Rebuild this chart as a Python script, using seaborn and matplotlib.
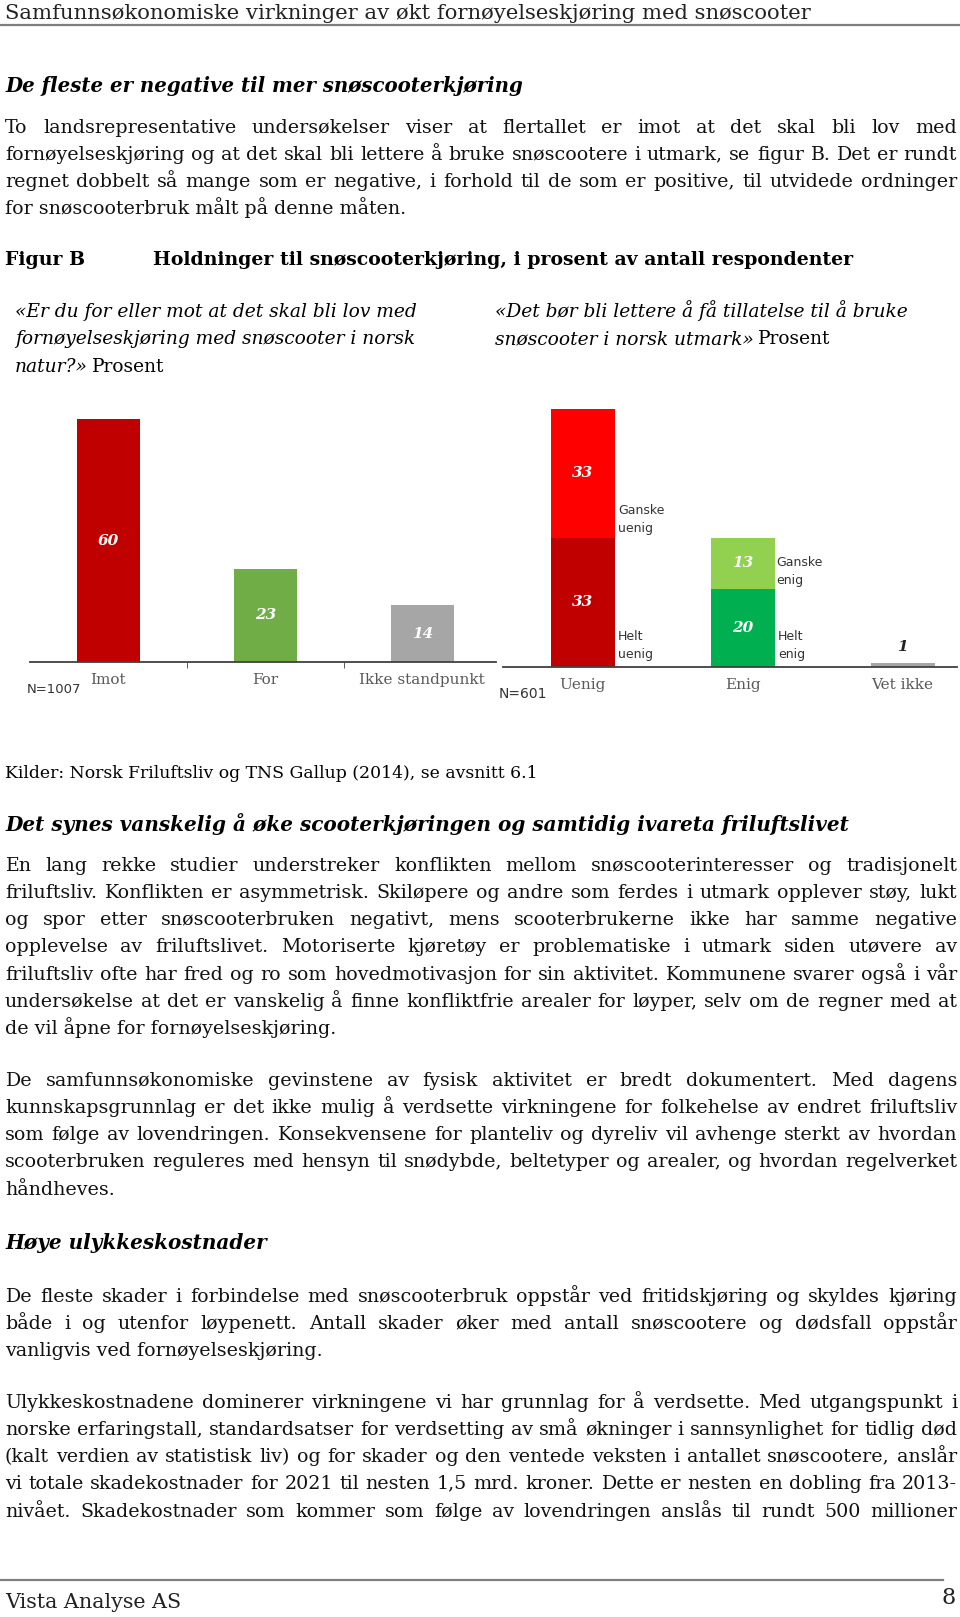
import numpy as np
import pandas as pd
import matplotlib
matplotlib.use("Agg")
import matplotlib.pyplot as plt
from matplotlib.lines import Line2D
import seaborn as sns

plt.rcParams['font.family'] = ['DejaVu Serif', 'DejaVu Sans']

W, H = 960, 1617

# chart data (percent of respondents)
left_cats = ["Imot", "For", "Ikke standpunkt"]
left_vals = [60, 23, 14]
left_colors = ["#C00000", "#70AD47", "#A6A6A6"]
left_n = "N=1007"

right_cats = ["Uenig", "Enig", "Vet ikke"]
right_helt = [33, 20, 1]      # helt uenig / helt enig / vet ikke
right_ganske = [33, 13, 0]    # ganske uenig / ganske enig
right_helt_colors = ["#C00000", "#00B050", "#A6A6A6"]
right_ganske_colors = ["#FF0000", "#92D050", "#A6A6A6"]
right_n = "N=601"

# page text
header = "Samfunnsøkonomiske virkninger av økt fornøyelseskjøring med snøscooter"
heading1 = "De fleste er negative til mer snøscooterkjøring"
para1 = [
    "To landsrepresentative undersøkelser viser at flertallet er imot at det skal bli lov med",
    "fornøyelseskjøring og at det skal bli lettere å bruke snøscootere i utmark, se figur B. Det er rundt",
    "regnet dobbelt så mange som er negative, i forhold til de som er positive, til utvidede ordninger",
    "for snøscooterbruk målt på denne måten.",
]
fig_label = "Figur B"
fig_title = "Holdninger til snøscooterkjøring, i prosent av antall respondenter"
sub_left = ["«Er du for eller mot at det skal bli lov med",
            "fornøyelseskjøring med snøscooter i norsk",
            "natur?»"]
sub_right = ["«Det bør bli lettere å få tillatelse til å bruke",
             "snøscooter i norsk utmark»"]
source = "Kilder: Norsk Friluftsliv og TNS Gallup (2014), se avsnitt 6.1"
heading2 = "Det synes vanskelig å øke scooterkjøringen og samtidig ivareta friluftslivet"
para2 = [
    "En lang rekke studier understreker konflikten mellom snøscooterinteresser og tradisjonelt",
    "friluftsliv. Konflikten er asymmetrisk. Skiløpere og andre som ferdes i utmark opplever støy, lukt",
    "og spor etter snøscooterbruken negativt, mens scooterbrukerne ikke har samme negative",
    "opplevelse av friluftslivet. Motoriserte kjøretøy er problematiske i utmark siden utøvere av",
    "friluftsliv ofte har fred og ro som hovedmotivasjon for sin aktivitet. Kommunene svarer også i vår",
    "undersøkelse at det er vanskelig å finne konfliktfrie arealer for løyper, selv om de regner med at",
    "de vil åpne for fornøyelseskjøring.",
]
para3 = [
    "De samfunnsøkonomiske gevinstene av fysisk aktivitet er bredt dokumentert. Med dagens",
    "kunnskapsgrunnlag er det ikke mulig å verdsette virkningene for folkehelse av endret friluftsliv",
    "som følge av lovendringen. Konsekvensene for planteliv og dyreliv vil avhenge sterkt av hvordan",
    "scooterbruken reguleres med hensyn til snødybde, beltetyper og arealer, og hvordan regelverket",
    "håndheves.",
]
heading3 = "Høye ulykkeskostnader"
para4 = [
    "De fleste skader i forbindelse med snøscooterbruk oppstår ved fritidskjøring og skyldes kjøring",
    "både i og utenfor løypenett. Antall skader øker med antall snøscootere og dødsfall oppstår",
    "vanligvis ved fornøyelseskjøring.",
]
para5 = [
    "Ulykkeskostnadene dominerer virkningene vi har grunnlag for å verdsette. Med utgangspunkt i",
    "norske erfaringstall, standardsatser for verdsetting av små økninger i sannsynlighet for tidlig død",
    "(kalt verdien av statistisk liv) og for skader og den ventede veksten i antallet snøscootere, anslår",
    "vi totale skadekostnader for 2021 til nesten 1,5 mrd. kroner. Dette er nesten en dobling fra 2013-",
    "nivået. Skadekostnader som kommer som følge av lovendringen anslås til rundt 500 millioner",
]

fig = plt.figure(figsize=(W / 100, H / 100), dpi=100)
fig.patch.set_facecolor("white")
r = fig.canvas.get_renderer()
justified = []   # word texts of each justified line, aligned after a first draw
DESC = set("gjpqy()")


def X(px):
    return px / W


def Y(py):
    return 1 - py / H


def width_of(text, size, **kw):
    t = fig.text(0, 0, text, fontsize=size, **kw)
    w = t.get_window_extent(renderer=r).width
    t.remove()
    return w


def fit(text, width, **kw):
    return 10 * width / width_of(text, 10, **kw)


def put(x, y, text, size, **kw):
    # y is the visual middle of the line; place on a common baseline
    yb = round(y + 0.5 * size)
    t = fig.text(X(x), Y(yb), text, fontsize=size, va="baseline", **kw)
    return t


def put_x(x, y, text, size, **kw):
    t = put(x, y, text, size, **kw)
    return x + t.get_window_extent(renderer=r).width


def justify(y, line, size, x0=5, x1=957, **kw):
    words = line.split()
    ws = [width_of(w_, size, **kw) for w_ in words]
    gap = (x1 - x0 - sum(ws)) / (len(words) - 1)
    x = x0
    row = []
    for w_, wd in zip(words, ws):
        row.append(put(x, y, w_, size, **kw))
        x += wd + gap
    justified.append(row)


def paragraph(lines, y0, size, last_full=False, step=27.2):
    for i, line in enumerate(lines):
        y = y0 + i * step
        if i == len(lines) - 1 and not last_full:
            put(5, y, line, size, color="#111111")
        else:
            justify(y, line, size, color="#111111")


# common body size from the tightest line
full_lines = para1[:-1] + para2[:-1] + para3[:-1] + para4[:-1] + para5
body = min(fit(l, 950) for l in full_lines)

# header / footer
put(5, 11, header, fit(header, 812), color="#222222")
fig.add_artist(Line2D([0, 1], [Y(25), Y(25)], color="#7f7f7f", lw=1.6))
fig.add_artist(Line2D([0, X(943)], [Y(1580), Y(1580)], color="#7f7f7f", lw=1.6))
put(5, 1601, "Vista Analyse AS", fit("Vista Analyse AS", 176), color="#222222")
fig.text(X(956), Y(1598), "8", fontsize=16, ha="right", va="center", color="#222222")

hkw = dict(fontweight="bold", fontstyle="italic")
put(5, 85, heading1, fit(heading1, 519, **hkw), **hkw)
paragraph(para1, 126, body)

bkw = dict(fontweight="bold")
title_size = fit(fig_title, 701, **bkw)
put(5, 258, fig_label, title_size, **bkw)
put(153, 258, fig_title, title_size, **bkw)

ikw = dict(fontstyle="italic")
sub_size = fit(sub_right[0], 414, **ikw)
for i, line in enumerate(sub_left):
    xe = put_x(15, 310 + i * 27.5, line, sub_size, **ikw)
put(xe + 4, 310 + 2 * 27.5, "Prosent", sub_size)
for i, line in enumerate(sub_right):
    xe = put_x(495, 310 + i * 27.5, line, sub_size, **ikw)
put(xe + 4, 310 + 27.5, "Prosent", sub_size)

put(5, 772, source, fit(source, 534))
put(5, 824, heading2, fit(heading2, 843, **hkw), **hkw)
paragraph(para2, 864, body)
paragraph(para3, 1079, body)
put(5, 1242, heading3, fit(heading3, 261, **hkw), **hkw)
paragraph(para4, 1295, body)
paragraph(para5, 1401, body, last_full=True)

# ---- left chart ----
lbl_kw = dict(fontsize=11, color="#595959")
val_kw = dict(fontsize=11, fontweight="bold", fontstyle="italic", ha="center", va="center")

axL = fig.add_axes([X(30), Y(662), 466 / W, 263 / H])
axL.set_facecolor("none")
sns.barplot(x=left_cats, y=left_vals, hue=left_cats,
            palette=dict(zip(left_cats, left_colors)),
            width=0.4, saturation=1, legend=False, ax=axL)
axL.set_xlim(-0.5, 2.47)
axL.set_ylim(0, 65)
for i, v in enumerate(left_vals):
    axL.text(i, v / 2, str(v), color="white", **val_kw)
axL.set_xticks(range(3), left_cats, **lbl_kw)
axL.set_xticks([0.5, 1.5], minor=True)
axL.tick_params(axis="x", which="major", length=0, pad=8)
axL.tick_params(axis="x", which="minor", length=4, color="#404040", direction="out")
axL.set_yticks([])
axL.set(xlabel=None, ylabel=None)
sns.despine(ax=axL, left=True)
axL.spines["bottom"].set_color("#404040")
axL.spines["bottom"].set_linewidth(1.3)
fig.text(X(27), Y(689), left_n, fontsize=9.5, family="DejaVu Sans",
         va="center", color="#333333")

# ---- right chart ----
axR = fig.add_axes([X(503), Y(667), 454 / W, 266 / H])
axR.set_facecolor("none")
right_total = [a + b for a, b in zip(right_helt, right_ganske)]
sns.barplot(x=right_cats, y=right_total, hue=right_cats,
            palette=dict(zip(right_cats, right_ganske_colors)),
            width=0.4, saturation=1, legend=False, ax=axR)
sns.barplot(x=right_cats, y=right_helt, hue=right_cats,
            palette=dict(zip(right_cats, right_helt_colors)),
            width=0.4, saturation=1, legend=False, ax=axR)
axR.set_xlim(-0.5, 2.34)
axR.set_ylim(0, 68)
for i in range(2):
    axR.text(i, right_helt[i] / 2, str(right_helt[i]), color="white", **val_kw)
    axR.text(i, right_helt[i] + right_ganske[i] / 2, str(right_ganske[i]),
             color="white", **val_kw)
axR.text(2, right_total[2] + 4, str(right_total[2]), color="#222222", **val_kw)

side_kw = dict(fontsize=9, family="DejaVu Sans", color="#333333",
               va="center", ha="left", linespacing=1.5)
axR.text(0.22, 37.6, "Ganske\nuenig", **side_kw)
axR.text(0.22, 5.4, "Helt\nuenig", **side_kw)
axR.text(1.21, 24.5, "Ganske\nenig", **side_kw)
axR.text(1.22, 5.4, "Helt\nenig", **side_kw)

axR.set_xticks(range(3), right_cats, **lbl_kw)
axR.tick_params(axis="x", length=0, pad=8)
axR.set_yticks([])
axR.set(xlabel=None, ylabel=None)
sns.despine(ax=axR, left=True)
axR.spines["bottom"].set_color("#404040")
axR.spines["bottom"].set_linewidth(1.3)
fig.text(X(499), Y(694), right_n, fontsize=10, family="DejaVu Sans",
         va="center", color="#333333")

# some word texts land a pixel or two off the line's baseline once
# rasterised; find the baseline row of words without real descenders in a
# first render and nudge the odd ones back onto the line
fig.canvas.draw()
img = np.asarray(fig.canvas.buffer_rgba())[:, :, :3].astype(float)
ink = 255 - img.mean(axis=2)
Hc = img.shape[0]
rr = fig.canvas.get_renderer()
for row in justified:
    found = []
    for t in row:
        if DESC & set(t.get_text()):
            continue
        bb = t.get_window_extent(renderer=rr)
        c0, c1 = max(int(bb.x0), 0), min(int(np.ceil(bb.x1)), img.shape[1])
        r0, r1 = max(int(Hc - bb.y1) - 3, 0), min(int(Hc - bb.y0) + 3, Hc)
        prof = ink[r0:r1, c0:c1].sum(axis=1)
        rows = np.nonzero(prof >= 0.35 * prof.max())[0]
        found.append((t, r0 + rows.max()))
    if len(found) < 2:
        continue
    ref = int(np.median([b for _, b in found]))
    for t, b in found:
        if b != ref and abs(b - ref) <= 4:
            t.set_y(t.get_position()[1] + (b - ref) / H)

fig.savefig("out.png", dpi=100, facecolor="white")
